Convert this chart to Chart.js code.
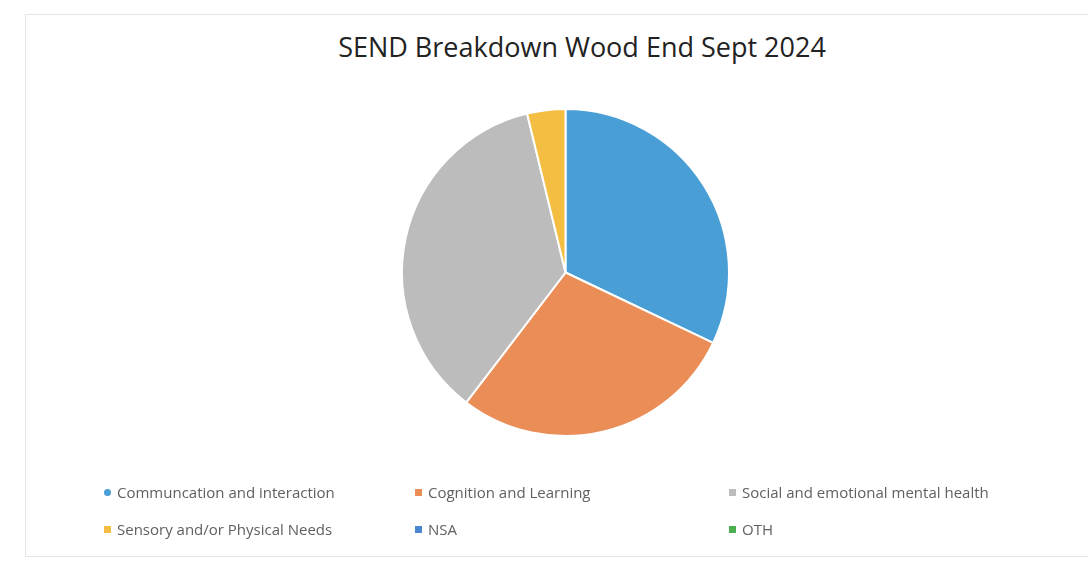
<!DOCTYPE html>
<html>
<head>
<meta charset="utf-8">
<script src="https://cdn.jsdelivr.net/npm/chart.js@4.4.1/dist/chart.umd.min.js"></script>
<style>
  html, body { margin: 0; padding: 0; background: #fff; }
  #wrap { position: relative; width: 1088px; height: 562px; overflow: hidden; font-family: 'Open Sans', sans-serif; }
  #frame { position: absolute; left: 25px; top: 14px; width: 1100px; height: 541px; border: 1px solid #e6e6e6; }
  #title { position: absolute; left: 0; width: 1164px; top: 28px; text-align: center; font-size: 27px; color: #222; }
  #chart { position: absolute; left: 0; top: 0; }
  .lg { position: absolute; font-size: 15px; color: #606060; white-space: nowrap; }
  .lg i { display: inline-block; width: 7px; height: 7px; margin-right: 6px; vertical-align: middle; position: relative; top: -1px; }
</style>
</head>
<body>
<div id="wrap">
  <div id="frame"></div>
  <div id="title">SEND Breakdown Wood End Sept 2024</div>
  <canvas id="chart" width="1088" height="562"></canvas>
  <div id="legend"></div>
</div>
<script>
// ── Data ──
const CATEGORIES = [
  'Communcation and interaction',
  'Cognition and Learning',
  'Social and emotional mental health',
  'Sensory and/or Physical Needs',
  'NSA',
  'OTH',
];
const PUPILS = [17, 15, 19, 2, 0, 0];
const COLORS = ['#4a9ed6', '#ea8d57', '#bcbcbc', '#f4be42', '#4a86d0', '#4caf50'];

// ── Legend (3 columns x 2 rows) ──
function buildLegend() {
  const box = document.getElementById('legend');
  const colX = [104, 415, 729];
  const rowY = [482, 519];
  CATEGORIES.forEach((c, i) => {
    const d = document.createElement('div');
    d.className = 'lg';
    d.style.left = colX[i % 3] + 'px';
    d.style.top = rowY[Math.floor(i / 3)] + 'px';
    d.innerHTML = `<i style="background:${COLORS[i]};border-radius:${i < 1 ? 50 : 1}%"></i>${c}`;
    box.appendChild(d);
  });
}

// ── Pie ──
function initChart() {
  const ctx = document.getElementById('chart').getContext('2d');
  new Chart(ctx, {
    type: 'pie',
    data: {
      labels: CATEGORIES,
      datasets: [{
        data: PUPILS,
        backgroundColor: COLORS,
        borderColor: '#fff',
        borderWidth: 2,
      }],
    },
    options: {
      responsive: false,
      animation: false,
      layout: { padding: { left: 401, right: 358, top: 108, bottom: 125 } },
      plugins: {
        legend: { display: false },
        tooltip: { enabled: false },
      },
    },
  });
}

buildLegend();
initChart();
</script>
</body>
</html>
